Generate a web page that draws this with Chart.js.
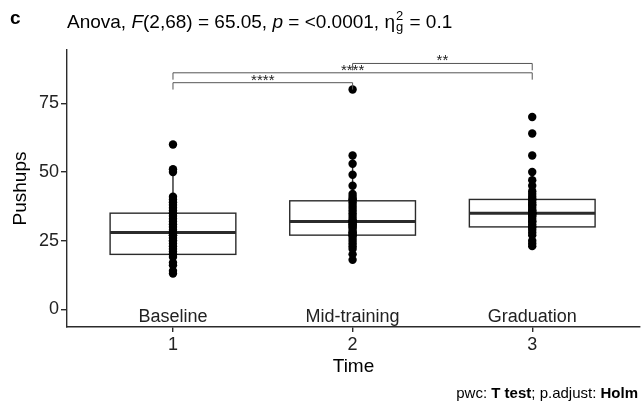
<!DOCTYPE html>
<html>
<head>
<meta charset="utf-8">
<script src="https://cdn.jsdelivr.net/npm/chart.js@4"></script>
<style>
  body { margin: 0; background: #fff; }
  canvas { display: block; }
</style>
</head>
<body>
<canvas id="myChart" width="641" height="407"></canvas>
<script>
// ===== data =====
const categories = ['Baseline', 'Mid-training', 'Graduation'];
const timeTicks = [1, 2, 3];
const yTicks = [0, 25, 50, 75];

const baseline = [13, 14, 16, 17, 19, 20, 20, 21, 22, 23, 24, 25, 25, 26, 27, 27, 28, 28,
  29, 30, 31, 32, 33, 34, 35, 35, 36, 37, 38, 39, 40, 41, 50, 51, 60];
const midTraining = [18, 20, 22, 23, 24, 25, 26, 27, 27, 28, 28, 29, 30, 30, 31, 31, 32, 32,
  32, 33, 34, 35, 36, 37, 38, 39, 40, 40, 41, 42, 45, 49, 53, 56, 80];
const graduation = [23, 24, 25, 27, 28, 29, 30, 30, 31, 32, 32, 33, 34, 34, 35, 35, 35, 35,
  36, 36, 37, 38, 38, 39, 40, 40, 41, 42, 43, 45, 47, 50, 56, 64, 70];

// box stats (one per time point)
const q1 = [20, 27, 30];
const medians = [28, 32, 35];
const q3 = [35, 39.5, 40];
const whiskerLow = [13, 18, 23];
const whiskerHigh = [51, 56, 50];

// pairwise comparisons
const pairFrom = [1, 1, 2];
const pairTo = [2, 3, 3];
const pLabels = ['****', '****', '**'];
const bracketY = [82.5, 86.1, 89.5];

const FONT = 'Liberation Sans, Arial, sans-serif';
Chart.defaults.font.family = FONT;

// the points never sit on the plot edge, so no extra room for them
Chart.registry.getController('scatter').prototype.getMaxOverflow = () => 0;

// scatter points, one group per time
const groups = [baseline, midTraining, graduation];
const points = [];
groups.forEach((vals, i) => {
  vals.forEach(v => points.push({ x: timeTicks[i], y: v }));
});

// ===== boxes + brackets + text =====
const boxPlugin = {
  id: 'boxPlugin',
  beforeDatasetsDraw(chart) {
    const { ctx, scales: { x, y } } = chart;
    ctx.save();
    ctx.strokeStyle = '#2b2b2b';
    for (let i = 0; i < timeTicks.length; i++) {
      const cx = x.getPixelForValue(timeTicks[i]);
      const l = x.getPixelForValue(timeTicks[i] - 0.35);
      const r = x.getPixelForValue(timeTicks[i] + 0.35);
      const yq1 = y.getPixelForValue(q1[i]);
      const yq3 = y.getPixelForValue(q3[i]);
      const ym = y.getPixelForValue(medians[i]);
      // whiskers
      ctx.lineWidth = 1.4;
      ctx.beginPath();
      ctx.moveTo(cx, yq3);
      ctx.lineTo(cx, y.getPixelForValue(whiskerHigh[i]));
      ctx.moveTo(cx, yq1);
      ctx.lineTo(cx, y.getPixelForValue(whiskerLow[i]));
      ctx.stroke();
      // box
      ctx.fillStyle = '#fff';
      ctx.fillRect(l, yq3, r - l, yq1 - yq3);
      ctx.strokeRect(l, yq3, r - l, yq1 - yq3);
      // median
      ctx.lineWidth = 3;
      ctx.beginPath();
      ctx.moveTo(l, ym);
      ctx.lineTo(r, ym);
      ctx.stroke();
    }
    ctx.restore();
  },
  afterDatasetsDraw(chart) {
    const { ctx, scales: { x, y } } = chart;
    ctx.save();
    // brackets
    ctx.strokeStyle = '#555';
    ctx.lineWidth = 1;
    ctx.fillStyle = '#222';
    ctx.font = '15px ' + FONT;
    ctx.textAlign = 'center';
    ctx.textBaseline = 'alphabetic';
    for (let i = 0; i < pairFrom.length; i++) {
      const x1 = x.getPixelForValue(pairFrom[i]);
      const x2 = x.getPixelForValue(pairTo[i]);
      const yb = y.getPixelForValue(bracketY[i]);
      const yt = y.getPixelForValue(bracketY[i] - 2.5);
      ctx.beginPath();
      ctx.moveTo(x1, yt);
      ctx.lineTo(x1, yb);
      ctx.lineTo(x2, yb);
      ctx.lineTo(x2, yt);
      ctx.stroke();
      ctx.fillText(pLabels[i], (x1 + x2) / 2, yb + 2);
    }
    // category names
    ctx.fillStyle = '#222';
    ctx.font = '18px ' + FONT;
    categories.forEach((c, i) => {
      ctx.fillText(c, x.getPixelForValue(timeTicks[i]), y.getPixelForValue(-4.5));
    });
    ctx.restore();
  },
  afterDraw(chart) {
    const ctx = chart.ctx;
    ctx.save();
    ctx.fillStyle = '#000';
    ctx.textBaseline = 'alphabetic';
    ctx.textAlign = 'left';
    ctx.font = 'bold 19px ' + FONT;
    ctx.fillText('c', 10, 24);

    // title with italic and sub/superscript parts
    let tx = 67;
    const base = 28;
    const parts = [
      ['Anova, ', ''], ['F', 'italic '], ['(2,68) = 65.05, ', ''],
      ['p', 'italic '], [' = <0.0001, ', ''], ['η', '']
    ];
    parts.forEach(([t, st]) => {
      ctx.font = st + '19px ' + FONT;
      ctx.fillText(t, tx, base);
      tx += ctx.measureText(t).width;
    });
    ctx.font = '13px ' + FONT;
    ctx.fillText('2', tx + 1, base - 8);
    ctx.fillText('g', tx + 1, base + 3);
    tx += ctx.measureText('g').width + 2;
    ctx.font = '19px ' + FONT;
    ctx.fillText(' = 0.1', tx, base);

    // caption
    const cap = [['pwc: ', ''], ['T test', 'bold '], ['; p.adjust: ', ''], ['Holm', 'bold ']];
    let w = 0;
    cap.forEach(([t, st]) => { ctx.font = st + '15px ' + FONT; w += ctx.measureText(t).width; });
    let cx = 638 - w;
    cap.forEach(([t, st]) => {
      ctx.font = st + '15px ' + FONT;
      ctx.fillText(t, cx, 398);
      cx += ctx.measureText(t).width;
    });
    ctx.restore();
  }
};

// config
const config = {
  type: 'scatter',
  data: {
    datasets: [{
      label: 'Pushups',
      data: points,
      backgroundColor: '#000',
      borderColor: '#000',
      pointRadius: 4.2,
      pointHoverRadius: 4.2,
      borderWidth: 0
    }]
  },
  options: {
    responsive: false,
    animation: false,
    devicePixelRatio: 1,
    layout: { padding: { top: 50, right: 1, bottom: 29, left: 0 } },
    plugins: { legend: { display: false }, tooltip: { enabled: false } },
    scales: {
      x: {
        type: 'linear',
        min: 0.41,
        max: 3.6,
        afterBuildTicks: s => { s.ticks = timeTicks.map(v => ({ value: v })); },
        afterFit: s => { s.height = 51; s.paddingLeft = 0; s.paddingRight = 0; },
        grid: { drawOnChartArea: false, drawTicks: true, tickLength: 5, color: '#2b2b2b', lineWidth: 1.4 },
        border: { color: '#2b2b2b', width: 1.4 },
        ticks: { color: '#222', font: { size: 18 }, padding: 2 },
        title: { display: true, text: 'Time', color: '#000', font: { size: 19 }, padding: 0 }
      },
      y: {
        min: -6.44,
        max: 94.4,
        afterBuildTicks: s => { s.ticks = yTicks.map(v => ({ value: v })); },
        afterFit: s => { s.width = 67; s.paddingTop = 0; s.paddingBottom = 0; },
        grid: { drawOnChartArea: false, drawTicks: true, tickLength: 6, color: '#2b2b2b', lineWidth: 1.4 },
        border: { color: '#2b2b2b', width: 1.4 },
        ticks: { color: '#222', font: { size: 18 }, padding: 2 },
        title: { display: true, text: 'Pushups', color: '#000', font: { size: 19 }, padding: { top: 9, bottom: 0 } }
      }
    }
  },
  plugins: [boxPlugin]
};

// render
const myChart = new Chart(document.getElementById('myChart'), config);
</script>
</body>
</html>
